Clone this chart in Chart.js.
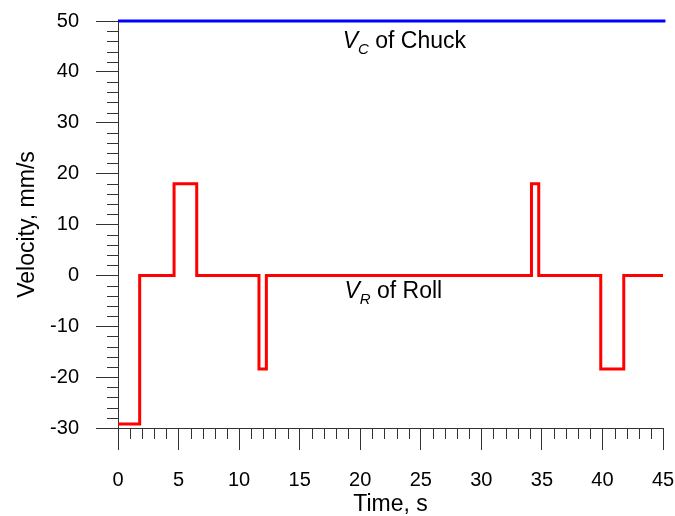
<!DOCTYPE html>
<html>
<head>
<meta charset="utf-8">
<script src="https://cdn.jsdelivr.net/npm/chart.js@4/dist/chart.umd.min.js"></script>
<style>
  html, body { margin: 0; padding: 0; background: #fff; }
  #wrap { width: 675px; height: 516px; }
</style>
</head>
<body>
<div id="wrap"><canvas id="velChart" width="675" height="516"></canvas></div>
<script>
// -------------------------------
// Data --------------------------
// -------------------------------
// roll velocity: value switches to v at time t (step 'before')
const rollTimes = [0, 1.79, 4.63, 6.5, 11.64, 12.25, 34.14, 34.74, 39.86, 41.76, 45];
const rollValues = [-29.2, 0, 18, 0, -18.4, 0, 18, 0, -18.4, 0, 0];
const chuckTimes = [0, 45.2];
const chuckValues = [50, 50];

const xMajorTicks = [0, 5, 10, 15, 20, 25, 30, 35, 40, 45];
const yMajorTicks = [-30, -20, -10, 0, 10, 20, 30, 40, 50];

const toPoints = (xs, ys) => xs.map((x, i) => ({ x: x, y: ys[i] }));

const axisColor = "#333";
const FONT = "'Liberation Sans', Arial, sans-serif";

// -------------------------------
// Minor ticks + labels plugin ---
// -------------------------------
const extrasPlugin = {
  id: "extras",
  afterDraw(chart) {
    const ctx = chart.ctx;
    const xs = chart.scales.x;
    const ys = chart.scales.y;
    const area = chart.chartArea;
    ctx.save();
    ctx.strokeStyle = axisColor;
    ctx.lineWidth = 1;
    ctx.beginPath();
    for (let v = 0; v <= 45; v++) {
      if (v % 5 === 0) continue;
      const px = Math.round(xs.getPixelForValue(v)) + 0.5;
      ctx.moveTo(px, area.bottom);
      ctx.lineTo(px, area.bottom + 11);
    }
    for (let v = -30; v <= 50; v += 2) {
      if (v % 10 === 0) continue;
      const py = Math.round(ys.getPixelForValue(v)) + 0.5;
      ctx.moveTo(area.left - 11, py);
      ctx.lineTo(area.left, py);
    }
    ctx.stroke();

    // curve labels
    const label = (sub, rest, xv, yv) => {
      let px = xs.getPixelForValue(xv);
      const py = ys.getPixelForValue(yv);
      ctx.fillStyle = "#000";
      ctx.textBaseline = "alphabetic";
      ctx.textAlign = "left";
      ctx.font = "italic 23px " + FONT;
      ctx.fillText("V", px, py);
      px += ctx.measureText("V").width;
      ctx.font = "italic 15px " + FONT;
      ctx.fillText(sub, px, py + 6);
      px += ctx.measureText(sub).width;
      ctx.font = "23px " + FONT;
      ctx.fillText(rest, px, py);
    };
    label("C", " of Chuck", 18.55, 44.7);
    label("R", " of Roll", 18.7, -4.5);
    ctx.restore();
  },
};

// -------------------------------
// Chart -------------------------
// -------------------------------
const velCtx = document.getElementById("velChart").getContext("2d");
const velChart = new Chart(velCtx, {
  type: "scatter",
  data: {
    datasets: [
      {
        label: "V_C of Chuck",
        data: toPoints(chuckTimes, chuckValues),
        showLine: true,
        borderColor: "#0000ff",
        borderWidth: 3,
        pointRadius: 0,
        fill: false,
        clip: false,
      },
      {
        label: "V_R of Roll",
        data: toPoints(rollTimes, rollValues),
        showLine: true,
        stepped: "before",
        borderColor: "#ff0000",
        borderWidth: 3,
        pointRadius: 0,
        fill: false,
        clip: false,
      },
    ],
  },
  options: {
    responsive: false,
    animation: false,
    layout: { padding: { top: 21, right: 12, left: 0, bottom: 0 } },
    plugins: { legend: { display: false }, tooltip: { enabled: false } },
    scales: {
      x: {
        type: "linear",
        min: 0,
        max: 45,
        afterBuildTicks: (s) => { s.ticks = xMajorTicks.map((v) => ({ value: v })); },
        afterFit: (s) => { s.height = 88; s.paddingLeft = 0; s.paddingRight = 0; },
        border: { display: true, color: axisColor, width: 1 },
        grid: { display: true, drawOnChartArea: false, drawTicks: true, tickLength: 22, color: axisColor },
        ticks: { color: "#000", font: { family: FONT, size: 20 }, padding: 18, maxRotation: 0 },
        title: { display: true, text: "Time, s", color: "#000", font: { family: FONT, size: 23, lineHeight: 1.0 }, padding: { top: 0, bottom: 0 } },
      },
      y: {
        type: "linear",
        min: -30,
        max: 50,
        afterBuildTicks: (s) => { s.ticks = yMajorTicks.map((v) => ({ value: v })); },
        afterFit: (s) => { s.width = 118; s.paddingTop = 0; s.paddingBottom = 0; },
        border: { display: true, color: axisColor, width: 1 },
        grid: { display: true, drawOnChartArea: false, drawTicks: true, tickLength: 22, color: axisColor },
        ticks: { color: "#000", font: { family: FONT, size: 20 }, padding: 17 },
        title: { display: true, text: "Velocity, mm/s", color: "#000", font: { family: FONT, size: 23 }, padding: { top: 14, bottom: 0 } },
      },
    },
  },
  plugins: [extrasPlugin],
});
</script>
</body>
</html>
